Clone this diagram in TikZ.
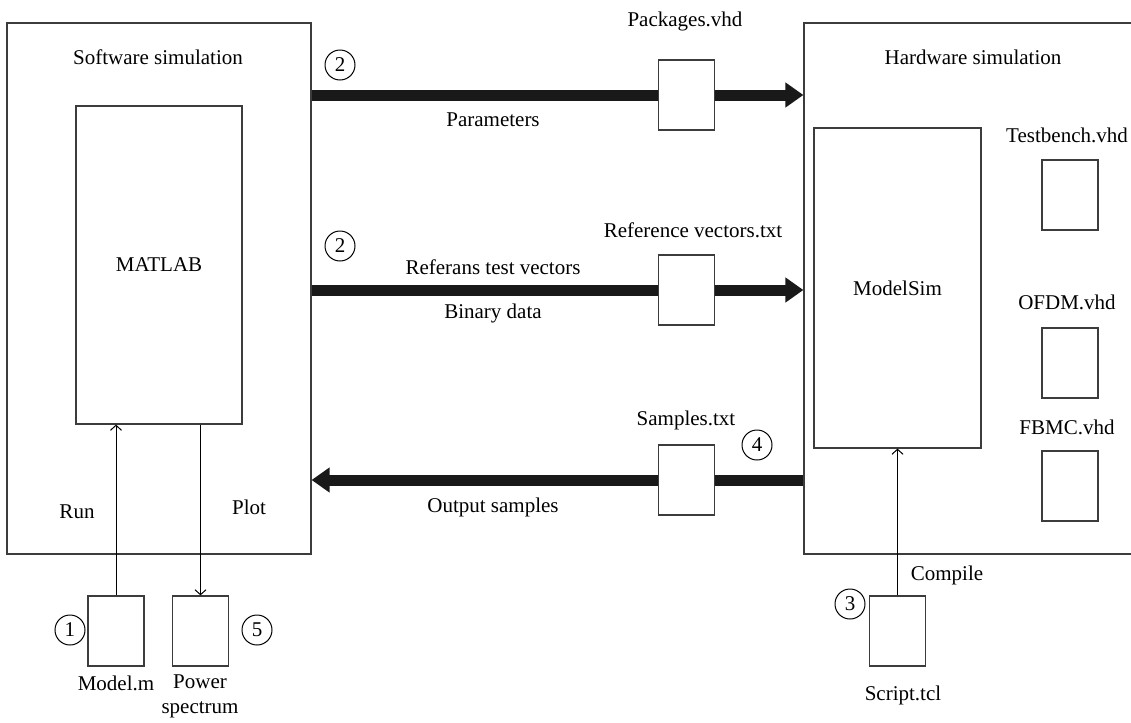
\documentclass[tikz,border=0pt]{standalone}
\usepackage{fontspec}
\setmainfont{Liberation Serif}
\usetikzlibrary{arrows.meta,positioning}
\definecolor{linhacinza}{RGB}{60,60,60}
\definecolor{setapreta}{RGB}{25,25,25}

\tikzset{
  bloco/.style={draw=linhacinza, line width=0.6pt, inner sep=0pt},
  arquivo/.style={bloco, fill=white, minimum width=28pt, minimum height=35pt},
  num/.style={circle, draw, line width=0.5pt, minimum size=15pt, inner sep=0pt},
  seta grossa/.style={-{Triangle[length=9pt,width=12pt]}, line width=5.5pt, setapreta},
  seta fina/.style={-{Straight Barb[length=2.5pt,width=5.5pt]}, line width=0.5pt}
}

\begin{document}
\begin{tikzpicture}[x=0.5pt, y=-0.5pt, font=\fontsize{10.5}{12.5}\selectfont]
        \useasboundingbox (0,0) rectangle (1131,723);

        % Blocos principais
        \node[bloco, minimum width=152pt, minimum height=265.5pt] (soft) at (159,288.5) {};
        \node[bloco, minimum width=165pt, minimum height=265.5pt] (hard) at (969,288.5) {};
        \node[bloco, minimum width=83pt, minimum height=159pt] (matlab) at (159,265) {MATLAB};
        \node[bloco, minimum width=83.5pt, minimum height=160pt] (modelsim) at (897.5,288) {ModelSim};

        \node (softlbl) at (158,57) {Software simulation};
        \node (hardlbl) at (973,57) {Hardware simulation};

        % Setas grossas
        \coordinate (pkgc) at (686.5,95);
        \coordinate (refc) at (686.5,290);
        \coordinate (samc) at (686.5,480);
        \draw[seta grossa] (soft.east |- pkgc) -- (hard.west |- pkgc);
        \draw[seta grossa] (soft.east |- refc) -- (hard.west |- refc);
        \draw[seta grossa] (hard.west |- samc) -- (soft.east |- samc);

        % Arquivos
        \node[arquivo] (pkg) at (pkgc) {};
        \node[arquivo] (ref) at (refc) {};
        \node[arquivo] (sam) at (samc) {};
        \node (pkglbl) at (685,21) {Packages.vhd};
        \node (reflbl) at (693,230) {Reference vectors.txt};
        \node (samlbl) at (686,420) {Samples.txt};

        \node[arquivo] (tb) at (1070,195) {};
        \node[arquivo] (ofdm) at (1070,363) {};
        \node[arquivo] (fbmc) at (1070,486) {};
        \node (tblbl) at (1067,135) {Testbench.vhd};
        \node (ofdmlbl) at (1067,302) {OFDM.vhd};
        \node (fbmclbl) at (1067,427) {FBMC.vhd};

        \node[arquivo] (model) at (116,631) {};
        \node[arquivo] (power) at (200.5,631) {};
        \node[arquivo] (script) at (897.5,631) {};
        \node (modellbl) at (116,683) {Model.m};
        \node[align=center] (powerlbl) at (200,696) {Power\\spectrum};
        \node (scriptlbl) at (903,695) {Script.tcl};

        % Setas finas
        \draw[seta fina] (model.north) -- (model.north |- matlab.south);
        \draw[seta fina] (matlab.south -| power.north) -- (power.north);
        \draw[seta fina] (script.north) -- (script.north |- modelsim.south);

        % Rotulos
        \node (runlbl) at (77,512) {Run};
        \node (plotlbl) at (249,507) {Plot};
        \node (compilelbl) at (947,575) {Compile};
        \node (parlbl) at (493,120) {Parameters};
        \node (testlbl) at (493,267) {Referans test vectors};
        \node (binlbl) at (493,313) {Binary data};
        \node (outlbl) at (493,507) {Output samples};

        % Etapas
        \node[num] (n1) at (70,630) {1};
        \node[num] (n2a) at (340,65) {2};
        \node[num] (n2b) at (340,246) {2};
        \node[num] (n3) at (850,604) {3};
        \node[num] (n4) at (757,445) {4};
        \node[num] (n5) at (257,630) {5};
    \end{tikzpicture}
\end{document}
